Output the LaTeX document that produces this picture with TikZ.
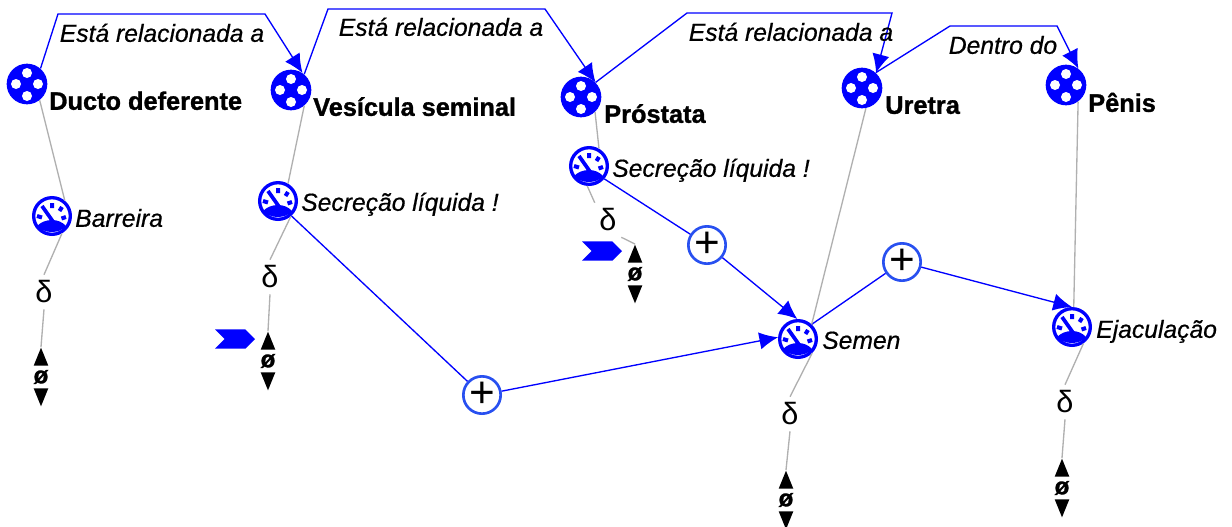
\documentclass[tikz,border=0pt]{standalone}
\usepackage{fontspec}
\setmainfont{Liberation Sans}[BoldFeatures={FakeBold=1.2},ItalicFeatures={FakeBold=0.6}]
\usetikzlibrary{arrows.meta,shapes.geometric,shapes.symbols}
\definecolor{linkblue}{RGB}{0,0,255}
\definecolor{plusblue}{RGB}{40,80,240}
\definecolor{linkgray}{RGB}{176,176,176}
\tikzset{
  stockdot/.style={circle,fill=linkblue,minimum size=30.5pt,inner sep=0pt,
    path picture={
      \begin{scope}[shift={(path picture bounding box.center)}]
        \fill[white] (0,-11) circle (5) (-11,0) circle (5) (11,0) circle (5) (0,12) circle (5);
      \end{scope}}},
  gauge/.style={circle,draw=linkblue,line width=2.5pt,minimum size=27.5pt,inner sep=0pt,
    path picture={
      \begin{scope}[shift={(path picture bounding box.center)},linkblue]
        \draw[line width=2.8pt] (-10,-10) -- (2,7);
        \fill (-15,10) .. controls (-7,2) and (7,2) .. (14,10) .. controls (8,18) and (-8,18) .. (-15,10);
        \draw[line width=3pt] (-15,0) -- (-10,1.5) (0,-13) -- (0,-8) (10,-9) -- (7.5,-5) (14,1) -- (9.5,2.5);
      \end{scope}}},
  plusnode/.style={circle,draw=plusblue,fill=white,line width=2pt,minimum size=28pt,inner sep=0pt,font=\fontsize{33}{33}\selectfont},
  namelabel/.style={anchor=west,inner sep=0pt,text height=15.4pt,text depth=2.2pt,font=\fontsize{19}{22}\selectfont\bfseries},
  varlabel/.style={anchor=west,inner sep=0pt,text height=15.4pt,text depth=2.2pt,font=\fontsize{18.5}{22}\selectfont\itshape},
  linklabel/.style={inner sep=0pt,text height=15.4pt,text depth=2.2pt,font=\fontsize{18.5}{22}\selectfont\itshape},
  deltanode/.style={minimum width=19.5pt,minimum height=25.5pt,inner sep=0pt,font=\fontsize{23}{25}\selectfont},
  sinknode/.style={inner sep=0pt,font=\fontsize{18}{20}\selectfont\bfseries},
  sinkup/.style={isosceles triangle,isosceles triangle stretches,shape border rotate=90,fill=black,minimum width=11pt,minimum height=13.5pt,inner sep=0pt,anchor=apex},
  sinkdown/.style={sinkup,shape border rotate=-90},
  cloudmark/.style={signal,signal to=east,signal from=west,fill=linkblue,minimum width=30pt,minimum height=14.5pt,inner sep=0pt},
  relation/.style={draw=linkblue,line width=1pt},
  flow/.style={relation,-{Latex[length=14pt,width=13pt]}},
  owner/.style={draw=linkgray,line width=1pt}
}
\begin{document}
\begin{tikzpicture}[x=0.75pt,y=-0.75pt]
  \useasboundingbox (0,0) rectangle (1232,526);
  % stocks
  \node[stockdot] (ducto) at (27,84) {};
  \node[stockdot] (vesicula) at (291,90) {};
  \node[stockdot] (prostata) at (581,97) {};
  \node[stockdot] (uretra) at (862,88) {};
  \node[stockdot] (penis) at (1066,85) {};
  \node[namelabel] (ductotxt) at (49,101) {Ducto deferente};
  \node[namelabel] (vesiculatxt) at (313,107) {Vesícula seminal};
  \node[namelabel] (prostatatxt) at (604,114) {Próstata};
  \node[namelabel] (uretratxt) at (885,105) {Uretra};
  \node[namelabel] (penistxt) at (1088,103) {Pênis};
  % gauges
  \node[gauge] (barreira) at (52,216) {};
  \node[gauge] (secrecaoA) at (278,201) {};
  \node[gauge] (secrecaoB) at (589,166) {};
  \node[gauge] (semen) at (798,339) {};
  \node[gauge] (ejaculacao) at (1072,327) {};
  \node[varlabel] (barreiratxt) at (75,218) {Barreira};
  \node[varlabel] (secrecaoAtxt) at (301,202) {Secreção líquida !};
  \node[varlabel] (secrecaoBtxt) at (612,168) {Secreção líquida !};
  \node[varlabel] (sementxt) at (822,340) {Semen};
  \node[varlabel] (ejaculacaotxt) at (1096,329) {Ejaculação};
  % plus
  \node[plusnode] (plusA) at (482,395) {\raisebox{-1.5pt}{+}};
  \node[plusnode] (plusB) at (707,245) {\raisebox{-1.5pt}{+}};
  \node[plusnode] (plusC) at (902,262) {\raisebox{-1.5pt}{+}};
  % delta and sinks
  \foreach \name/\x/\y in {A/44/292,B/270/277,C/608/220,D/790/414,E/1065/402}
    \node[deltanode] (delta\name) at (\x,\y) {δ};
  \foreach \name/\x/\y in {A/41/377,B/268/361,C/635/274,D/786/500,E/1062/488}{
    \node[sinknode] (sink\name) at (\x,\y) {ø};
    \node[sinkup] (up\name) at (\x,\y-30) {};
    \node[sinkdown] (down\name) at (\x,\y+30) {};
  }
  \node[cloudmark] (markA) at (235,339) {};
  \node[cloudmark] (markB) at (602,251) {};
  % relations
  \draw[flow] (ducto.49) -- (58,14) -- (265,14) -- (vesicula.56);
  \draw[flow] (vesicula.50) -- (328,9) -- (545,9) -- (prostata.45);
  \draw[flow] (prostata.45) -- (687,13) -- (892,13) -- (uretra.47);
  \draw[flow] (uretra.48) -- (950,26) -- (1057,26) -- (penis.53);
  \node[linklabel] (relA) at (162,33) {Está relacionada a};
  \node[linklabel] (relB) at (441,27) {Está relacionada a};
  \node[linklabel] (relC) at (791,32) {Está relacionada a};
  \node[linklabel] (relD) at (1003,45) {Dentro do};
  % flows
  \draw[relation] (secrecaoA.-48) -- (plusA);
  \draw[flow] (plusA) -- (semen.175);
  \draw[relation] (secrecaoB.-40) -- (plusB);
  \draw[flow] (plusB) -- (semen.92);
  \draw[relation] (semen.47) -- (plusC);
  \draw[flow] (plusC) -- (ejaculacao.90);
  % owners
  \draw[owner] (ducto.-52) -- (barreira.50);
  \draw[owner] (barreira.-60) -- (deltaA.north);
  \draw[owner] (deltaA.south) -- (upA.apex);
  \draw[owner] (vesicula.-50) -- (secrecaoA.60);
  \draw[owner] (secrecaoA.-50) -- (deltaB.north);
  \draw[owner] (deltaB.south) -- (upB.apex);
  \draw[owner] (prostata.-47) -- (secrecaoB.60);
  \draw[owner] (secrecaoB.-95) -- (deltaC.north west);
  \draw[owner] (deltaC.south east) -- (upC.apex);
  \draw[owner] (uretra.-79) -- (semen.47);
  \draw[owner] (semen.-45) -- (deltaD.north);
  \draw[owner] (deltaD.south) -- (upD.apex);
  \draw[owner] (penis.-54) -- (ejaculacao.85);
  \draw[owner] (ejaculacao.-55) -- (deltaE.north);
  \draw[owner] (deltaE.south) -- (upE.apex);
\end{tikzpicture}
\end{document}
